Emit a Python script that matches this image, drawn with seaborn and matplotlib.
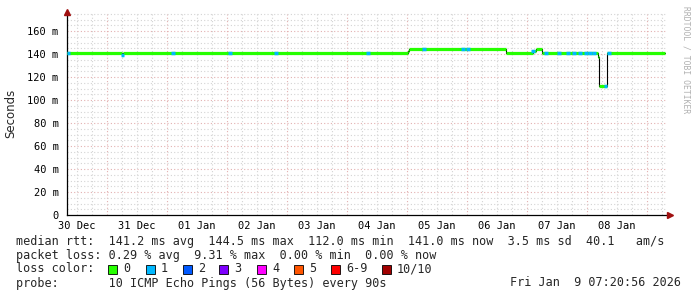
import numpy as np
import pandas as pd
import matplotlib
matplotlib.use("Agg")
import matplotlib.pyplot as plt
from matplotlib.patches import Rectangle
import seaborn as sns

# ---- data (x in days since 30 Dec 00:00, rtt in ms) ----
seg_start = [0.333, 1.245, 1.262, 6.017, 6.033, 7.65, 8.10, 8.15, 8.25, 9.175, 9.20, 9.333]
seg_rtt   = [141.2, 139.5, 141.2, 142.5, 144.5, 141.0, 143.0, 144.5, 141.0, 137.5, 112.0, 141.0]
seg_end   = 10.30

loss1_days = [0.36, 1.26, 2.10, 3.05, 3.82, 5.35, 6.28, 6.93, 7.02, 8.10,
              8.32, 8.53, 8.68, 8.78, 8.88, 8.98, 9.05, 9.12, 9.31, 9.37]

day_labels = ["30 Dec", "31 Dec", "01 Jan", "02 Jan", "03 Jan",
              "04 Jan", "05 Jan", "06 Jan", "07 Jan", "08 Jan"]
y_ticks = [0, 20, 40, 60, 80, 100, 120, 140, 160]

loss_names = ["0", "1", "2", "3", "4", "5", "6-9", "10/10"]
loss_colors = ["#26ff00", "#00b8ff", "#0059ff", "#7e00ff",
               "#ff00ff", "#ff5500", "#ff0000", "#a10000"]

W, H = 697, 297
MONO = "DejaVu Sans Mono"

sns.set_style("white")
plt.rcParams["font.family"] = [MONO, "DejaVu Sans"]

fig = plt.figure(figsize=(W / 100, H / 100), dpi=100)
fig.patch.set_facecolor("white")
ax_l, ax_r, ax_t, ax_b = 67, 666, 12, 215
ax = fig.add_axes([ax_l / W, 1 - ax_b / H, (ax_r - ax_l) / W, (ax_b - ax_t) / H])
ax.set_facecolor("white")

x0 = 0.3333
x1 = x0 + (ax_r - ax_l) / 60.0
ymax = (ax_b - ax_t) / 1.15
ax.set_xlim(x0, x1)
ax.set_ylim(0, ymax)

# grid
for d in np.arange(0, 11.01, 0.25):
    if x0 < d < x1:
        major = abs(d - round(d)) < 1e-6
        ax.axvline(d, color="#e3b0b0" if major else "#d4d4d4",
                   lw=0.8, ls=(0, (1, 2)), zorder=0)
for v in np.arange(5, ymax, 5):
    major = v % 20 == 0
    ax.axhline(v, color="#e3b0b0" if major else "#d4d4d4",
               lw=0.8, ls=(0, (1, 2)), zorder=0)

# median rtt: black step line
step_x = seg_start + [seg_end]
step_y = seg_rtt + [seg_rtt[-1]]
df = pd.DataFrame({"day": step_x, "rtt": step_y})
sns.lineplot(data=df, x="day", y="rtt", drawstyle="steps-post",
             color="black", lw=0.8, estimator=None, ax=ax, zorder=2)

# coloured median segments (loss 0)
ends = seg_start[1:] + [seg_end]
ax.hlines(seg_rtt, seg_start, ends, colors=loss_colors[0], lw=2.3, zorder=3)

# loss = 1 patches
idx = np.searchsorted(seg_start, loss1_days, side="right") - 1
vals = [seg_rtt[i] for i in idx]
ax.hlines(vals, np.array(loss1_days) - 0.03, np.array(loss1_days) + 0.03,
          colors=loss_colors[1], lw=2.5, zorder=4)

# axes styling
for s in ["top", "right"]:
    ax.spines[s].set_visible(False)
for s in ["left", "bottom"]:
    ax.spines[s].set_color("black")
    ax.spines[s].set_linewidth(0.9)

ax.set_xticks([i + 0.5 for i in range(len(day_labels))])
ax.set_xticklabels(day_labels, fontsize=7.5, family=MONO)
ax.set_yticks(y_ticks)
ax.set_yticklabels(["0" if v == 0 else f"{v} m" for v in y_ticks],
                   fontsize=7.5, family=MONO)
ax.tick_params(axis="both", length=0, colors="black")
ax.tick_params(axis="x", pad=4)
ax.tick_params(axis="y", pad=6)
ax.set_xlabel("")
ax.set_ylabel("")

# arrows
ax.plot([0], [1.0], marker="^", color="#a01010", ms=4, transform=ax.transAxes,
        clip_on=False, zorder=5)
ax.plot([1.007], [0], marker=">", color="#a01010", ms=4, transform=ax.transAxes,
        clip_on=False, zorder=5)


def ftext(x, y, s, **kw):
    fig.text(x / W, 1 - y / H, s, **kw)


ftext(11, 113, "Seconds", rotation=90, ha="center", va="center",
      fontsize=8.5, family="DejaVu Sans")
ftext(686, 60, "RRDTOOL / TOBI OETIKER", rotation=270, ha="center",
      va="center", fontsize=5.8, color="#b0b0b0", family=MONO)

fs = 8.5
ftext(16, 241, "median rtt:  141.2 ms avg  144.5 ms max  112.0 ms min  141.0 ms now  3.5 ms sd  40.1   am/s",
      fontsize=fs, family=MONO, va="center")
ftext(16, 255, "packet loss: 0.29 % avg  9.31 % max  0.00 % min  0.00 % now",
      fontsize=fs, family=MONO, va="center")
ftext(16, 269, "loss color:", fontsize=fs, family=MONO, va="center")
sq_x = [108, 146, 183, 219, 257, 294, 331, 382]
for sx, name, col in zip(sq_x, loss_names, loss_colors):
    fig.add_artist(Rectangle((sx / W, 1 - 273.5 / H), 9 / W, 9 / H,
                             transform=fig.transFigure, facecolor=col,
                             edgecolor="black", lw=0.6))
    ftext(sx + 15, 269, name, fontsize=fs, family=MONO, va="center")
ftext(16, 283, "probe:       10 ICMP Echo Pings (56 Bytes) every 90s",
      fontsize=fs, family=MONO, va="center")
ftext(681, 283, "Fri Jan  9 07:20:56 2026", fontsize=fs, family=MONO,
      va="center", ha="right")

fig.savefig("out.png", dpi=100, facecolor="white")
